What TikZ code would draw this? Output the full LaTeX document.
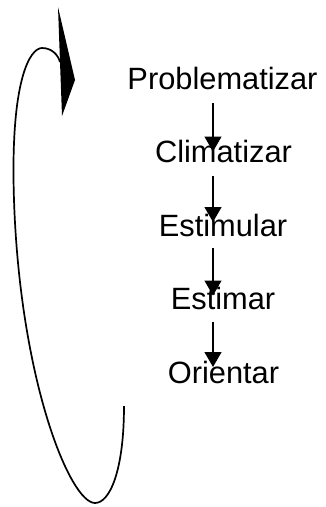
\documentclass[tikz,border=0pt]{standalone}
\usepackage{fontspec}
\setmainfont{Liberation Sans}
\usetikzlibrary{arrows.meta}

\begin{document}
\begin{tikzpicture}[x=1pt,y=-1pt,
  word/.style={anchor=base, inner sep=0pt, font=\fontsize{30.8}{36}\selectfont},
  flow/.style={line width=1.3pt, -{Triangle[length=15pt,width=17pt]}}]
\useasboundingbox (0,0) rectangle (325,507);
\node[word] (prob) at (222.5,89.0) {Problematizar};
\node[word] (clim) at (223.5,162.5) {Climatizar};
\node[word] (estu) at (223,236.0) {Estimular};
\node[word] (esti) at (223,309.5) {Estimar};
\node[word] (orie) at (223.5,383.0) {Orientar};
\draw[flow] ([xshift=-9.5pt,yshift=-14pt]prob.base) -- ([xshift=-10.5pt,yshift=11pt]clim.base);
\draw[flow] ([xshift=-10.5pt,yshift=-13pt]clim.base) -- ([xshift=-10pt,yshift=14pt]estu.base);
\draw[flow] ([xshift=-10pt,yshift=-12pt]estu.base) -- ([xshift=-10pt,yshift=14pt]esti.base);
\draw[flow] ([xshift=-10pt,yshift=-12pt]esti.base) -- ([xshift=-10.5pt,yshift=16pt]orie.base);
% loop back to the top
\coordinate (loopend) at (124,406);
\coordinate (loophead) at (60,62);
\draw[line width=1.7pt] (loopend) .. controls (124,470) and (110,503) .. (95,503)
  .. controls (70,503) and (20,380) .. (14,200)
  .. controls (10,80) and (30,48) .. (42,48)
  .. controls (52,48) and (58,55) .. (loophead);
\fill (58,7) -- (75,80) -- (62,116) -- (60,62) -- cycle;
\end{tikzpicture}
\end{document}
